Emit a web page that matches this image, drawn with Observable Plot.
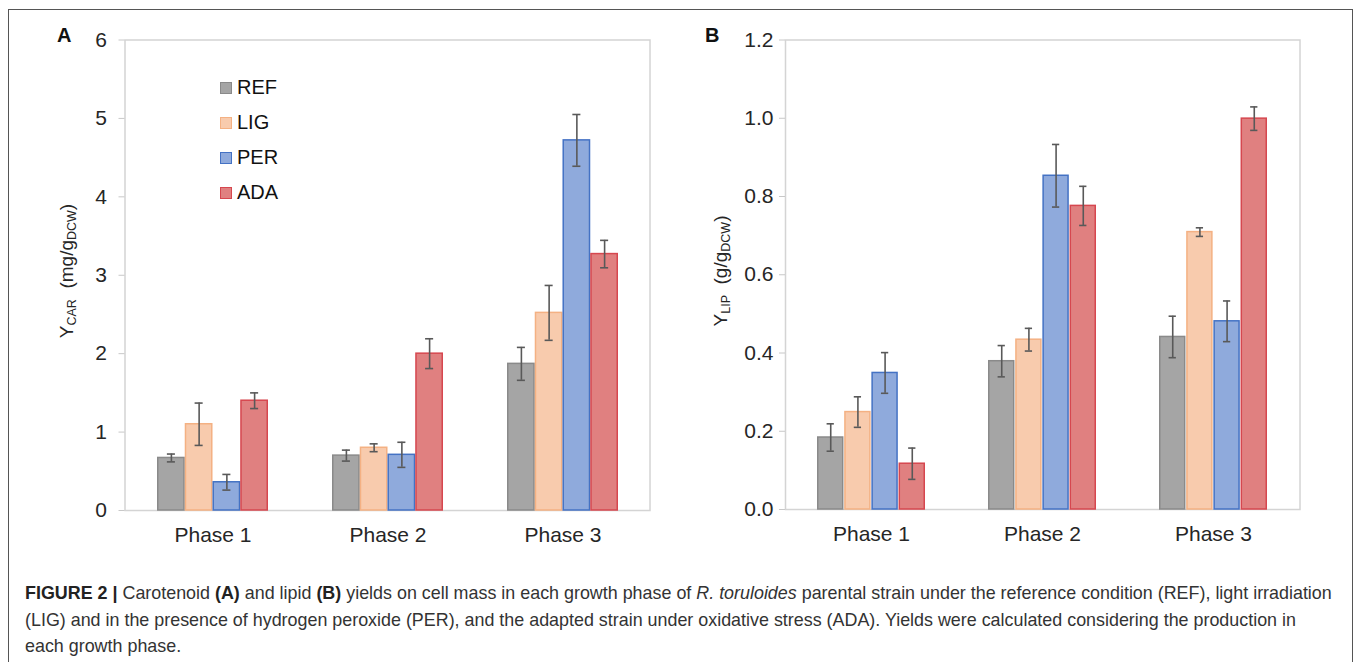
<!DOCTYPE html>
<html>
<head>
<meta charset="utf-8">
<script src="https://cdn.jsdelivr.net/npm/d3@7"></script>
<script src="https://cdn.jsdelivr.net/npm/@observablehq/plot@0.6"></script>
<style>
  html, body { margin: 0; padding: 0; background: #fff; overflow: hidden; }
  body { font-family: "Liberation Sans", Arial, sans-serif; }
  #wrap { position: relative; width: 1358px; height: 662px; overflow: hidden; }
  #frame { position: absolute; left: 8px; top: 9px; width: 1345px; height: 720px; border: 1.5px solid #555; box-sizing: border-box; }
  .panel { position: absolute; top: 0; }
  .plabel { position: absolute; font-weight: bold; font-size: 20px; color: #111; }
  .ytitle { position: absolute; transform: translate(-50%, -50%) rotate(-90deg); white-space: nowrap; font-size: 19px; color: #262626; }
  .ytitle sub { font-size: 12.5px; vertical-align: -3px; }
  .legend { position: absolute; left: 220px; top: 70px; font-size: 20px; color: #111; }
  .legend .row { display: flex; align-items: center; height: 35px; }
  .legend .sw { width: 12px; height: 12px; box-sizing: border-box; border: 1.5px solid; margin-right: 5px; }
  #caption { position: absolute; left: 25px; top: 580px; width: 1330px; font-size: 17.9px; line-height: 26.5px; color: #333; white-space: nowrap; }
  #caption b { color: #222; }
</style>
</head>
<body>
<div id="wrap">
  <div id="frame"></div>
  <div id="panelA" class="panel" style="left:0px"></div>
  <div id="panelB" class="panel" style="left:680px"></div>
  <div class="plabel" style="left:57px; top:24px">A</div>
  <div class="plabel" style="left:705px; top:24px">B</div>
  <div class="ytitle" style="left:67px; top:271px">Y<sub>CAR</sub>&nbsp; (mg/g<sub>DCW</sub>)</div>
  <div class="ytitle" style="left:721px; top:271px">Y<sub>LIP</sub>&nbsp; (g/g<sub>DCW</sub>)</div>
  <div class="legend" id="legend"></div>
  <div id="caption"><b>FIGURE 2 |</b> Carotenoid <b>(A)</b> and lipid <b>(B)</b> yields on cell mass in each growth phase of <i>R. toruloides</i> parental strain under the reference condition (REF), light irradiation<br>(LIG) and in the presence of hydrogen peroxide (PER), and the adapted strain under oxidative stress (ADA). Yields were calculated considering the production in<br>each growth phase.</div>
</div>
<script>
// ---- data ----
const phases = ["Phase 1", "Phase 2", "Phase 3"];
const series = ["REF", "LIG", "PER", "ADA"];

// Panel A: carotenoid yield (mg/g DCW)
const carREF = [0.67, 0.70, 1.87];
const carLIG = [1.10, 0.80, 2.52];
const carPER = [0.36, 0.71, 4.72];
const carADA = [1.40, 2.00, 3.27];
const carErrREF = [0.05, 0.07, 0.21];
const carErrLIG = [0.27, 0.05, 0.35];
const carErrPER = [0.10, 0.16, 0.33];
const carErrADA = [0.10, 0.19, 0.175];

// Panel B: lipid yield (g/g DCW)
const lipREF = [0.184, 0.379, 0.441];
const lipLIG = [0.249, 0.434, 0.709];
const lipPER = [0.349, 0.853, 0.481];
const lipADA = [0.117, 0.776, 0.999];
const lipErrREF = [0.035, 0.040, 0.053];
const lipErrLIG = [0.039, 0.029, 0.011];
const lipErrPER = [0.052, 0.080, 0.052];
const lipErrADA = [0.040, 0.050, 0.030];

const carTicks = [0, 1, 2, 3, 4, 5, 6];
const lipTicks = [0, 0.2, 0.4, 0.6, 0.8, 1.0, 1.2];

// ---- styles ----
const fills = ["#a5a5a5", "#f8cbad", "#8faadc", "#e08080"];
const strokes = ["#8a8a8a", "#f4b183", "#4472c4", "#d6474f"];

function rows(vals, errs) {
  const out = [];
  series.forEach((s, i) => phases.forEach((p, j) => {
    out.push({series: s, idx: i, phase: p, value: vals[i][j], err: errs[i][j]});
  }));
  return out;
}

const carRows = rows([carREF, carLIG, carPER, carADA], [carErrREF, carErrLIG, carErrPER, carErrADA]);
const lipRows = rows([lipREF, lipLIG, lipPER, lipADA], [lipErrREF, lipErrLIG, lipErrPER, lipErrADA]);

function panel({data, width, height, mLeft, mRight, mTop, mBottom, ymax, ticks, fmt, tickPad}) {
  const pi = 0.366, po = pi / 2;
  const W = width - mLeft - mRight;
  const step = W / (phases.length - pi + 2 * po);
  const bw = step * (1 - pi);
  const w = bw / series.length;
  const cap = 8;
  const marks = [Plot.frame({stroke: "#d4d4d4", strokeWidth: 1.5})];
  series.forEach((s, i) => {
    const d = data.filter(r => r.series === s);
    marks.push(Plot.barY(d, {x: "phase", y: "value", fill: fills[i], stroke: strokes[i], strokeWidth: 1.5,
      insetLeft: i * w + 0.75, insetRight: (series.length - 1 - i) * w + 0.75}));
  });
  series.forEach((s, i) => {
    const d = data.filter(r => r.series === s);
    const dx = (i - (series.length - 1) / 2) * w;
    marks.push(Plot.ruleX(d, {x: "phase", y1: r => r.value - r.err, y2: r => r.value + r.err, dx, stroke: "#595959", strokeWidth: 1.6}));
    const inL = i * w + (w - cap) / 2, inR = (series.length - 1 - i) * w + (w - cap) / 2;
    marks.push(Plot.tickY(d, {x: "phase", y: r => r.value + r.err, insetLeft: inL, insetRight: inR, stroke: "#595959", strokeWidth: 1.6}));
    marks.push(Plot.tickY(d, {x: "phase", y: r => r.value - r.err, insetLeft: inL, insetRight: inR, stroke: "#595959", strokeWidth: 1.6}));
  });
  marks.push(Plot.axisY({ticks, tickSize: 6, tickPadding: tickPad, tickFormat: fmt, stroke: "#c8c8c8", fill: "#262626", fontSize: 21, label: null}));
  marks.push(Plot.axisX({tickSize: 0, tickPadding: 17, fill: "#262626", fontSize: 21, label: null}));
  marks.push(Plot.ruleX([0], {frameAnchor: "left", stroke: "#c8c8c8", strokeWidth: 1.5}));
  return Plot.plot({
    width, height,
    marginLeft: mLeft, marginRight: mRight, marginTop: mTop, marginBottom: mBottom,
    style: {fontFamily: "'Liberation Sans', Arial, sans-serif", background: "transparent", overflow: "visible"},
    x: {domain: phases, paddingInner: pi, paddingOuter: po, axis: null},
    y: {domain: [0, ymax], axis: null},
    marks
  });
}

document.getElementById("panelA").appendChild(panel({
  data: carRows, width: 680, height: 560, mLeft: 124.5, mRight: 30.5, mTop: 39.5, mBottom: 50,
  ymax: 6, ticks: carTicks, fmt: d3.format("d"), tickPad: 12
}));
document.getElementById("panelB").appendChild(panel({
  data: lipRows, width: 678, height: 560, mLeft: 105, mRight: 58.5, mTop: 39.5, mBottom: 51,
  ymax: 1.2, ticks: lipTicks, fmt: d3.format(".1f"), tickPad: 6
}));

// legend (panel A)
const lg = document.getElementById("legend");
series.forEach((s, i) => {
  const row = document.createElement("div");
  row.className = "row";
  const sw = document.createElement("div");
  sw.className = "sw";
  sw.style.background = fills[i];
  sw.style.borderColor = strokes[i];
  const t = document.createElement("span");
  t.textContent = s;
  row.appendChild(sw); row.appendChild(t);
  lg.appendChild(row);
});
</script>
</body>
</html>
